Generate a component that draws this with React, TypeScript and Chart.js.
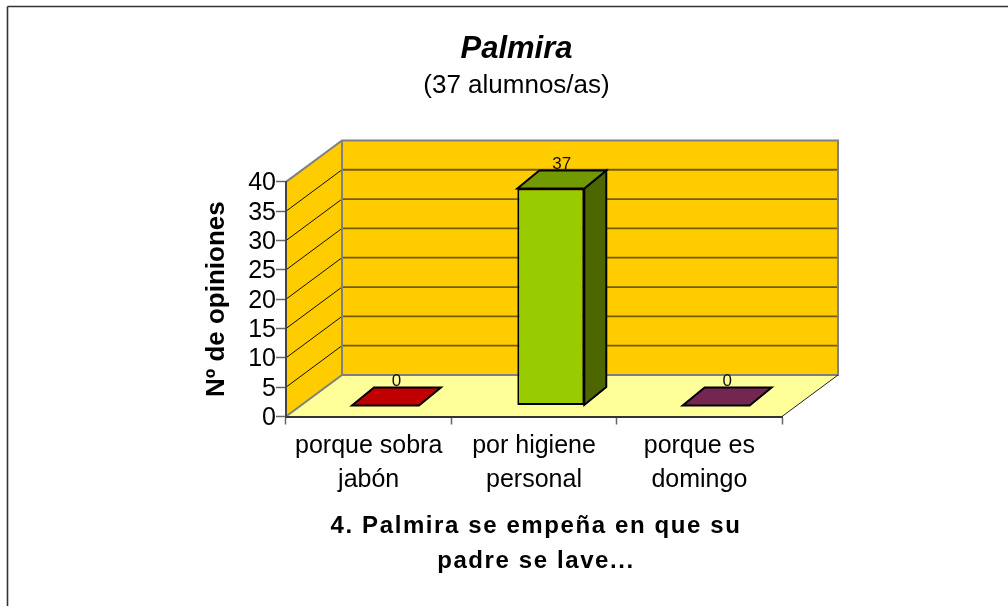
import React, { useEffect, useRef } from "react";
import { Chart, registerables } from "chart.js";

Chart.register(...registerables);

const categories = [["porque sobra", "jabón"], ["por higiene", "personal"], ["porque es", "domingo"]];
const values = [0, 37, 0];
const frontColors = ["#C00000", "#99CC00", "#732650"];
const topColors = ["#C00000", "#739900", "#732650"];
const sideColors = ["#600000", "#4D6600", "#391328"];
const titleText = "Palmira";
const subtitleText = "(37 alumnos/as)";
const yTitle = "Nº de opiniones";
const xTitle = ["4. Palmira se empeña en que su", "padre se lave..."];
const yTicks = { min: 0, max: 40, stepSize: 5 };

const FONT = "'Liberation Sans', Arial, sans-serif";
const WALL_DX = 56;
const WALL_DY = 41.5;
const BAR_DX = 16.8;
const BAR_DY = 11;
const BAR_DEPTH_X = 22;
const BAR_DEPTH_Y = 18;
const TITLE_SHIFT = 25;
const XTITLE_SHIFT = 2;

const poly = (ctx: CanvasRenderingContext2D, pts: number[][], fill?: string, stroke?: string, lw = 1) => {
  ctx.beginPath();
  pts.forEach((p, i) => (i ? ctx.lineTo(p[0], p[1]) : ctx.moveTo(p[0], p[1])));
  ctx.closePath();
  if (fill) {
    ctx.fillStyle = fill;
    ctx.fill();
  }
  if (stroke) {
    ctx.strokeStyle = stroke;
    ctx.lineWidth = lw;
    ctx.lineJoin = "miter";
    ctx.stroke();
  }
};

const line = (ctx: CanvasRenderingContext2D, x1: number, y1: number, x2: number, y2: number, c: string, lw: number) => {
  ctx.beginPath();
  ctx.moveTo(x1, y1);
  ctx.lineTo(x2, y2);
  ctx.strokeStyle = c;
  ctx.lineWidth = lw;
  ctx.stroke();
};

const walls3d = {
  id: "walls3d",
  afterLayout(chart: any) {
    chart.boxes
      .filter((b: any) => !b.axis && b.options && b.options.text)
      .forEach((b: any) => {
        b.left += TITLE_SHIFT;
        b.right += TITLE_SHIFT;
      });
  },
  beforeDraw(chart: any) {
    const { ctx, chartArea: a, scales } = chart;
    const y = scales.y;
    ctx.save();
    // frame of the picture
    line(ctx, 7.5, 6.5, 1008, 6.5, "#333333", 1.6);
    line(ctx, 7.5, 6.5, 7.5, 606, "#333333", 1.6);
    const l = a.left, r = a.right, t = a.top, b = a.bottom;
    // walls and floor
    poly(ctx, [[l + WALL_DX, t - WALL_DY], [r + WALL_DX, t - WALL_DY], [r + WALL_DX, b - WALL_DY], [l + WALL_DX, b - WALL_DY]], "#FFCC00");
    poly(ctx, [[l, t], [l + WALL_DX, t - WALL_DY], [l + WALL_DX, b - WALL_DY], [l, b]], "#FFCC00");
    poly(ctx, [[l, b], [l + WALL_DX, b - WALL_DY], [r + WALL_DX, b - WALL_DY], [r, b]], "#FFFF99");
    // grid lines
    y.ticks.forEach((tk: any) => {
      if (tk.value === yTicks.min || tk.value === yTicks.max) return;
      const py = y.getPixelForValue(tk.value);
      line(ctx, l, py, l + WALL_DX, py - WALL_DY, "#111100", 1);
      line(ctx, l + WALL_DX, py - WALL_DY, r + WALL_DX, py - WALL_DY, "#735C00", 1.8);
    });
    // wall outline
    ctx.lineJoin = "miter";
    ctx.beginPath();
    ctx.moveTo(l, b);
    ctx.lineTo(l + WALL_DX, b - WALL_DY);
    ctx.lineTo(r + WALL_DX, b - WALL_DY);
    ctx.lineTo(r + WALL_DX, t - WALL_DY);
    ctx.lineTo(l + WALL_DX, t - WALL_DY);
    ctx.lineTo(l, t);
    ctx.moveTo(l + WALL_DX, t - WALL_DY);
    ctx.lineTo(l + WALL_DX, b - WALL_DY);
    ctx.strokeStyle = "#808080";
    ctx.lineWidth = 2;
    ctx.stroke();
    line(ctx, r, b, r + WALL_DX, b - WALL_DY, "#222222", 1);
    ctx.restore();
    // wider spacing for the category axis title only
    const xs = scales.x;
    if (!xs.__wrapped) {
      const orig = xs.drawTitle;
      xs.drawTitle = function () {
        ctx.save();
        ctx.translate(XTITLE_SHIFT, 0);
        (ctx as any).letterSpacing = "1.6px";
        orig.call(this);
        (ctx as any).letterSpacing = "0px";
        ctx.restore();
      };
      xs.__wrapped = true;
    }
  },
  beforeDatasetsDraw(chart: any) {
    chart.ctx.save();
    chart.ctx.translate(BAR_DX, -BAR_DY);
  },
  afterDatasetsDraw(chart: any) {
    const { ctx } = chart;
    const meta = chart.getDatasetMeta(0);
    meta.data.forEach((bar: any, i: number) => {
      const l = bar.x - bar.width / 2, r = bar.x + bar.width / 2;
      const top = bar.y, base = bar.base;
      const dx = BAR_DEPTH_X, dy = BAR_DEPTH_Y;
      if (base - top > 0.5) {
        poly(ctx, [[r, top], [r + dx, top - dy], [r + dx, base - dy], [r, base]], sideColors[i], "#000000", 2);
      }
      poly(ctx, [[l, top], [l + dx, top - dy], [r + dx, top - dy], [r, top]], topColors[i], "#000000", 2);
      ctx.fillStyle = "#111111";
      ctx.font = `17px ${FONT}`;
      ctx.textAlign = "center";
      ctx.textBaseline = "alphabetic";
      ctx.fillText(String(values[i]), bar.x + dx / 2, top - dy - 1.5);
    });
    ctx.restore();
  },
};

export default function App() {
  const ref = useRef<HTMLCanvasElement>(null);
  useEffect(() => {
    const chart = new Chart(ref.current as HTMLCanvasElement, {
      type: "bar",
      data: {
        labels: categories as any,
        datasets: [
          {
            data: values,
            backgroundColor: frontColors,
            borderColor: "#000000",
            borderWidth: 2,
            borderSkipped: false,
            barPercentage: 0.405,
            categoryPercentage: 1,
            clip: false,
          } as any,
        ],
      },
      options: {
        responsive: false,
        animation: false,
        layout: { padding: { left: 201, right: 226, top: 0, bottom: 0 } },
        plugins: {
          legend: { display: false },
          tooltip: { enabled: false },
          title: {
            display: true,
            text: titleText,
            color: "#000000",
            font: { family: FONT, size: 31, weight: "bold", style: "italic" },
            padding: { top: 31, bottom: 2 },
          },
          subtitle: {
            display: true,
            text: subtitleText,
            color: "#000000",
            font: { family: FONT, size: 26, weight: "normal" },
            padding: { top: 0, bottom: 80.5 },
          },
        },
        scales: {
          x: {
            type: "category",
            offset: true,
            grid: { drawOnChartArea: false, offset: true, tickLength: 8, color: "#666666", tickWidth: 1.5 },
            border: { color: "#333333", width: 2 },
            ticks: {
              color: "#000000",
              font: { family: FONT, size: 25, lineHeight: 1.36 },
              padding: 5,
              maxRotation: 0,
              minRotation: 0,
              autoSkip: false,
            },
            title: {
              display: true,
              text: xTitle,
              color: "#000000",
              font: { family: FONT, size: 24, weight: "bold", lineHeight: 1.46 },
              padding: { top: 0, bottom: 27 },
            },
            afterFit(s: any) {
              s.height = 189.5;
            },
          },
          y: {
            min: yTicks.min,
            max: yTicks.max,
            grid: { drawOnChartArea: false, tickLength: 10, color: "#666666", tickWidth: 1.5 },
            border: { color: "#444444", width: 2 },
            ticks: {
              stepSize: yTicks.stepSize,
              autoSkip: false,
              color: "#000000",
              font: { family: FONT, size: 25, lineHeight: 1 },
              padding: 0,
              labelOffset: 1.5,
            },
            title: {
              display: true,
              text: yTitle,
              color: "#000000",
              font: { family: FONT, size: 26, weight: "bold" },
              padding: 0,
            },
            afterFit(s: any) {
              s.width = 85;
            },
          },
        },
      },
      plugins: [walls3d],
    } as any);
    return () => chart.destroy();
  }, []);
  return (
    <canvas
      ref={ref}
      width={1008}
      height={606}
      style={{ position: "absolute", left: 0, top: 0, display: "block", background: "#fff" }}
    />
  );
}
